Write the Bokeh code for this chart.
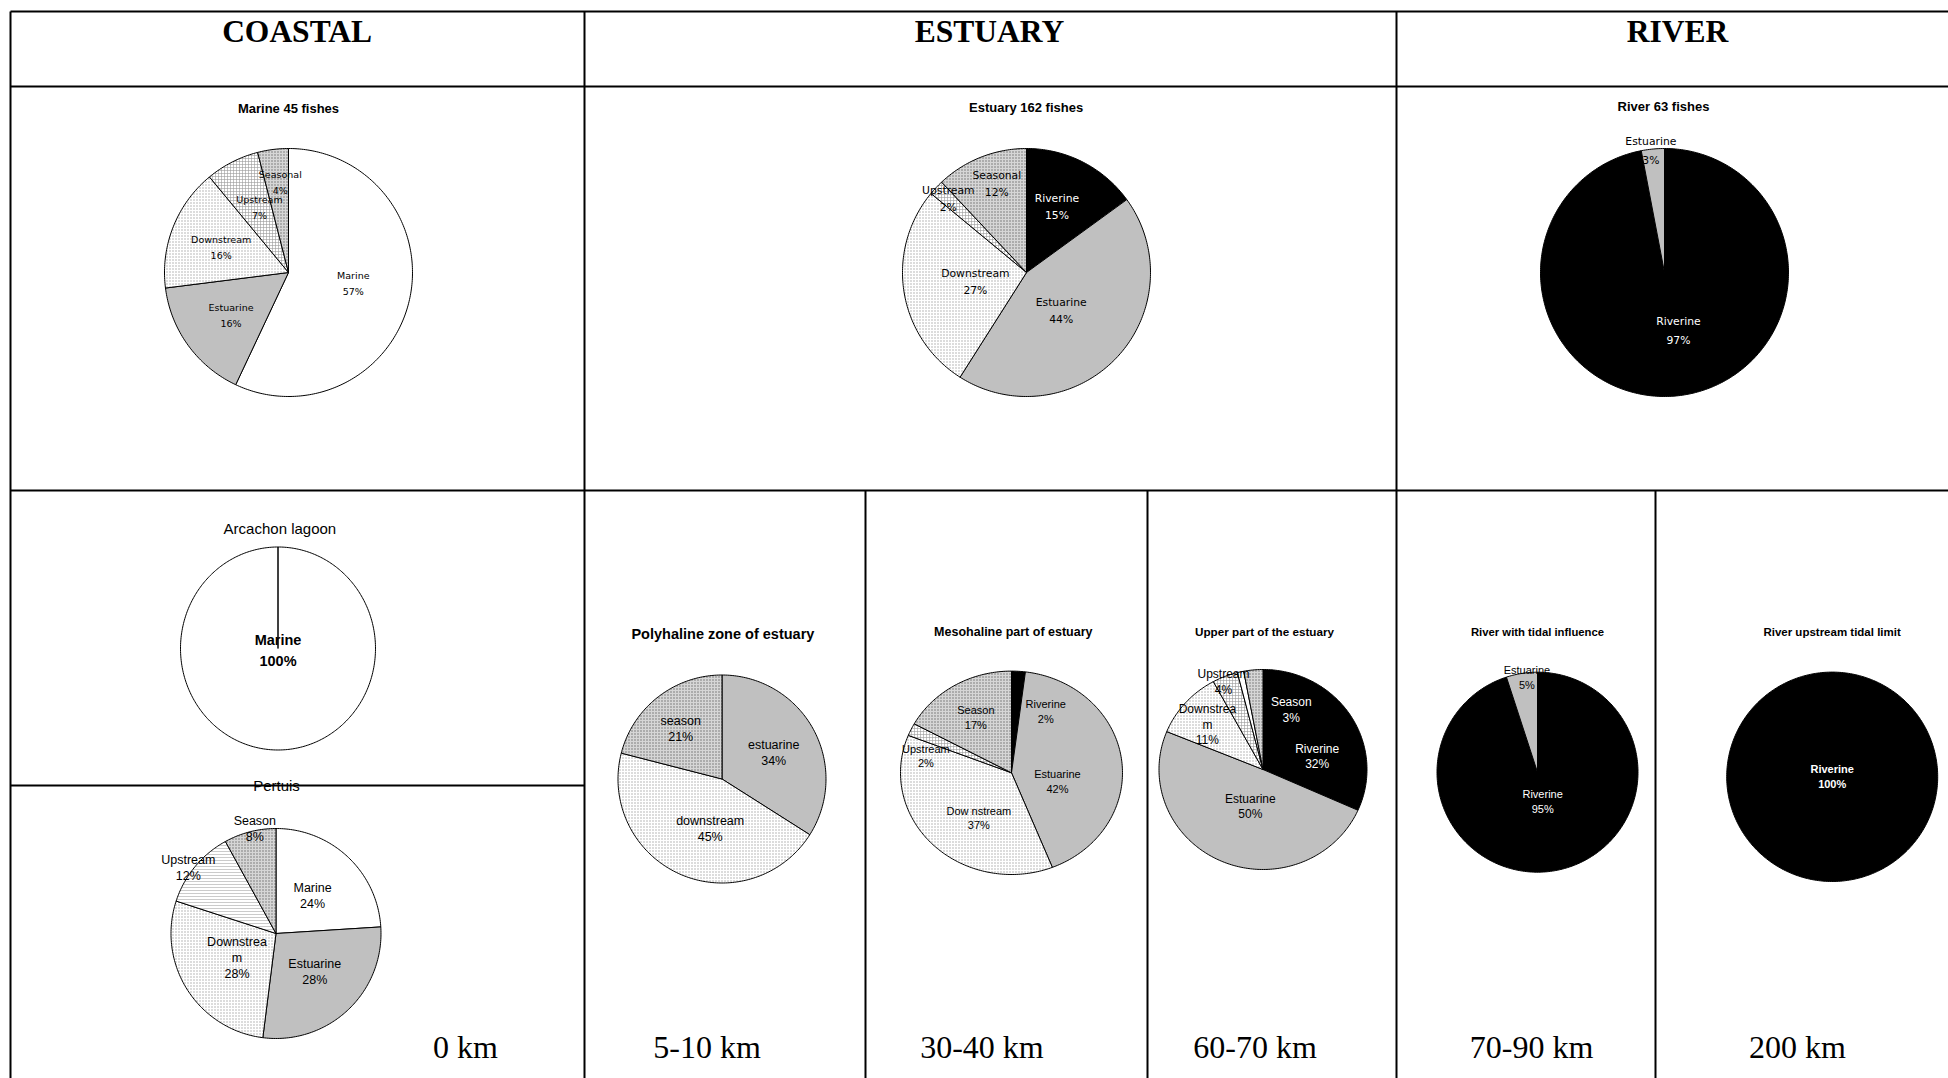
import numpy as np
from bokeh.plotting import figure
from bokeh.models import Range1d, ColumnDataSource
from bokeh.embed import file_html
from bokeh.resources import INLINE

# ------------------------------------------------------------------ data
marine45_cats = ["Marine", "Estuarine", "Downstream", "Upstream", "Seasonal"]
marine45_vals = [57, 16, 16, 7, 4]

estuary162_cats = ["Riverine", "Estuarine", "Downstream", "Upstream", "Seasonal"]
estuary162_vals = [15, 44, 27, 2, 12]

river63_cats = ["Riverine", "Estuarine"]
river63_vals = [97, 3]

arcachon_cats = ["Marine"]
arcachon_vals = [100]

pertuis_cats = ["Marine", "Estuarine", "Downstrea\nm", "Upstream", "Season"]
pertuis_vals = [24, 28, 28, 12, 8]

polyhaline_cats = ["estuarine", "downstream", "season"]
polyhaline_vals = [34, 45, 21]

mesohaline_cats = ["Riverine", "Estuarine", "Dow nstream", "Upstream", "Season"]
mesohaline_vals = [2, 42, 37, 2, 17]

# the thin unlabeled white slice between Upstream and Season
upper_cats = ["Riverine", "Estuarine", "Downstrea\nm", "Upstream", "", "Season"]
upper_vals = [32, 50, 11, 4, 1, 3]

tidal_cats = ["Riverine", "Estuarine"]
tidal_vals = [95, 5]

limit_cats = ["Riverine"]
limit_vals = [100]

chart_titles = ["Marine 45 fishes", "Estuary 162 fishes", "River 63 fishes",
                "Arcachon lagoon", "Pertuis", "Polyhaline zone of estuary",
                "Mesohaline part of estuary", "Upper part of the estuary",
                "River with tidal influence", "River upstream tidal limit"]
zone_headers = ["COASTAL", "ESTUARY", "RIVER"]
distance_labels = ["0 km", "5-10 km", "30-40 km", "60-70 km", "70-90 km", "200 km"]

# ------------------------------------------------------------------ styles
FILLS = {
    "riv":  ("#000000", " ", "#000000", 4),
    "est":  ("#C0C0C0", " ", "#000000", 4),
    "mar":  ("#FFFFFF", " ", "#000000", 4),
    "down": ("#FFFFFF", ".", "#A8A8A8", 3),
    "up":   ("#FFFFFF", "+", "#9A9A9A", 3),
    "uph":  ("#FFFFFF", "-", "#A8A8A8", 3),
    "seas": ("#D6D6D6", ".", "#6E6E6E", 3),
}
COMIC = "DejaVu Sans"
ARIAL = "Liberation Sans"
TIMES = "Liberation Serif"
K, Wt = "black", "white"

pies = [
    dict(cats=marine45_cats, vals=marine45_vals, kinds=["mar", "est", "down", "up", "seas"],
         c=(288, 272), r=(124, 124), f=[.53, .58, .58, .575, .73], rot=[-3, -1, -1, 3, 2],
         font=COMIC, fs=9.5, ls=16, bold=False, col=[K, K, K, K, K]),
    dict(cats=estuary162_cats, vals=estuary162_vals, kinds=["riv", "est", "down", "up", "seas"],
         c=(1026, 272), r=(124, 124), f=[.58, .42, .42, .865, .75], rot=[-2, 5, -2, 0, 3],
         font=COMIC, fs=10.8, ls=17, bold=False, col=[Wt, K, K, K, K]),
    dict(cats=river63_cats, vals=river63_vals, kinds=["riv", "est"],
         c=(1664, 272), r=(124, 124), f=[.485, .985], rot=[-8, -1],
         font=COMIC, fs=10.8, ls=19, bold=False, col=[Wt, K]),
    dict(cats=arcachon_cats, vals=arcachon_vals, kinds=["mar"],
         c=(277.5, 648), r=(97.5, 101.5), f=[0.02], rot=[0],
         font=ARIAL, fs=14.5, ls=21, bold=True, col=[K]),
    dict(cats=pertuis_cats, vals=pertuis_vals, kinds=["mar", "est", "down", "uph", "seas"],
         c=(275.5, 933), r=(105, 105), f=[.5, .52, .44, 1.04, 1.02], rot=[1, -2, 0, -3, 3],
         font=ARIAL, fs=12.5, ls=16, bold=False, col=[K, K, K, K, K]),
    dict(cats=polyhaline_cats, vals=polyhaline_vals, kinds=["est", "down", "seas"],
         c=(721.5, 778.5), r=(104, 104), f=[.557, .49, .62], rot=[2, -10, -2],
         font=ARIAL, fs=12.5, ls=16, bold=False, col=[K, K, K]),
    dict(cats=mesohaline_cats, vals=mesohaline_vals, kinds=["riv", "est", "down", "up", "seas"],
         c=(1011, 772.3), r=(111, 101.7), f=[.679, .423, .533, .789, .631], rot=[23.4, 19, -11.5, -13, 0],
         font=ARIAL, fs=11, ls=14.5, bold=False, col=[K, K, K, K, K]),
    dict(cats=upper_cats, vals=upper_vals, kinds=["riv", "est", "down", "up", "mar", "seas"],
         c=(1262.5, 769), r=(104, 100), f=[.537, .391, .697, .956, 0, .652], rot=[19, -5, -2, -2, 0, 30],
         font=ARIAL, fs=12, ls=15.5, bold=False, col=[Wt, K, K, K, K, Wt]),
    dict(cats=tidal_cats, vals=tidal_vals, kinds=["riv", "est"],
         c=(1537, 771.7), r=(100.5, 100), f=[.295, .948], rot=[-1, 2.6],
         font=ARIAL, fs=11, ls=15, bold=False, col=[Wt, K]),
    dict(cats=limit_cats, vals=limit_vals, kinds=["riv"],
         c=(1831.7, 776.3), r=(105.5, 104.7), f=[0.0], rot=[0],
         font=ARIAL, fs=11, ls=14.7, bold=True, col=[Wt]),
]

title_pos = [(288, 108), (1025.6, 106.7), (1663, 106), (279.4, 528.3), (276, 785),
             (722.4, 633.3), (1012.8, 631), (1264, 630.7), (1537, 631), (1831.6, 631)]
title_size = [13, 13, 13, 15, 15, 14.5, 12.5, 11.7, 11.3, 11.5]
title_bold = [True, True, True, False, False, True, True, True, True, True]
header_pos = [(296.6, 31), (989, 31), (1677, 31)]
distance_pos = [(465, 1046), (706.5, 1046), (981.4, 1046), (1254.5, 1046), (1531, 1046), (1797, 1046)]

# table rules (page pixel coordinates)
rules = [((10, 11), (1960, 11)), ((10, 86), (1960, 86)), ((10, 490), (1960, 490)),
         ((10, 11), (10, 1090)), ((584, 11), (584, 1090)), ((1396, 11), (1396, 1090)),
         ((865, 490), (865, 1090)), ((1147, 490), (1147, 1090)), ((1655, 490), (1655, 1090)),
         ((10, 785), (584, 785))]

# ------------------------------------------------------------------ figure
W, H = 1948, 1078
p = figure(width=W, height=H, x_range=Range1d(0, W), y_range=Range1d(-H, 0),
           output_backend="svg", toolbar_location=None, x_axis_type=None, y_axis_type=None,
           min_border=0, outline_line_color=None)
p.background_fill_color = "white"
p.border_fill_color = "white"
p.grid.visible = False

patch = dict(xs=[], ys=[], fill=[], hatch=[], hc=[], hs=[])
txt = dict(x=[], y=[], text=[], font=[], size=[], style=[], color=[])


def add_text(x, y, s, font, size, bold=False, color="black"):
    txt["x"].append(x)
    txt["y"].append(-y)
    txt["text"].append(s)
    txt["font"].append(font)
    txt["size"].append(f"{size}px")
    txt["style"].append("bold" if bold else "normal")
    txt["color"].append(color)


for pie in pies:
    cx, cy = pie["c"]
    rx, ry = pie["r"]
    vals = pie["vals"]
    tot = float(sum(vals))
    cum = np.concatenate([[0.0], np.cumsum(vals)]) / tot * 2 * np.pi
    for i, (a0, a1) in enumerate(zip(cum[:-1], cum[1:])):
        n = max(3, int(np.degrees(a1 - a0)) + 2)
        t = np.linspace(a0, a1, n)
        px = np.concatenate([[cx], cx + rx * np.sin(t)])
        py = np.concatenate([[cy], cy - ry * np.cos(t)])
        fill, hatch, hc, hs = FILLS[pie["kinds"][i]]
        patch["xs"].append(list(px))
        patch["ys"].append(list(-py))
        patch["fill"].append(fill)
        patch["hatch"].append(hatch)
        patch["hc"].append(hc)
        patch["hs"].append(hs)
        cat = pie["cats"][i]
        if not cat:
            continue
        a = (a0 + a1) / 2 + np.radians(pie["rot"][i])
        fr = pie["f"][i]
        lx = cx + rx * fr * np.sin(a)
        ly = cy - ry * fr * np.cos(a)
        lines = cat.split("\n") + [f"{vals[i]}%"]
        for j, s in enumerate(lines):
            add_text(lx, ly + (j - (len(lines) - 1) / 2) * pie["ls"], s,
                     pie["font"], pie["fs"], pie["bold"], pie["col"][i])

for s, (x, y), sz, b in zip(chart_titles, title_pos, title_size, title_bold):
    add_text(x, y, s, ARIAL, sz, b)
for s, (x, y) in zip(zone_headers, header_pos):
    add_text(x, y, s, TIMES, 31.5, True)
for s, (x, y) in zip(distance_labels, distance_pos):
    add_text(x, y, s, TIMES, 32, False)

psrc = ColumnDataSource(patch)
p.patches("xs", "ys", source=psrc, fill_color="fill", hatch_pattern="hatch",
          hatch_color="hc", hatch_scale="hs", hatch_weight=0.6,
          line_color="black", line_width=1)

tsrc = ColumnDataSource(txt)
p.text("x", "y", text="text", source=tsrc, text_font="font", text_font_size="size",
       text_font_style="style", text_color="color", text_align="center",
       text_baseline="middle")

p.segment(x0=[r[0][0] for r in rules], y0=[-r[0][1] for r in rules],
          x1=[r[1][0] for r in rules], y1=[-r[1][1] for r in rules],
          line_color="black", line_width=2)

open("out.html", "w").write(file_html(p, INLINE))
